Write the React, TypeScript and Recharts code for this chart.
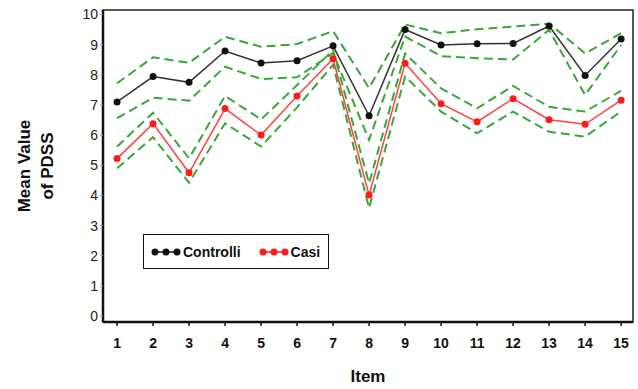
import { LineChart, Line, XAxis, YAxis, ReferenceArea } from "recharts";

const ITEMS = [1, 2, 3, 4, 5, 6, 7, 8, 9, 10, 11, 12, 13, 14, 15];
const CONTROLLI = [7.1, 7.94, 7.75, 8.79, 8.39, 8.47, 8.96, 6.64, 9.5, 8.99, 9.03, 9.04, 9.62, 7.98, 9.19];
const CONTROLLI_UP = [7.72, 8.58, 8.4, 9.26, 8.93, 9.02, 9.45, 7.56, 9.67, 9.38, 9.51, 9.6, 9.7, 8.71, 9.38];
const CONTROLLI_LO = [6.56, 7.24, 7.14, 8.27, 7.86, 7.92, 8.72, 5.84, 9.27, 8.62, 8.55, 8.51, 9.49, 7.33, 8.99];
const CASI = [5.22, 6.38, 4.75, 6.88, 6.0, 7.3, 8.53, 4.01, 8.38, 7.04, 6.44, 7.21, 6.51, 6.36, 7.16];
const CASI_UP = [5.62, 6.74, 5.23, 7.3, 6.52, 7.66, 8.82, 4.4, 8.71, 7.55, 6.89, 7.63, 6.94, 6.78, 7.47];
const CASI_LO = [4.9, 5.93, 4.42, 6.39, 5.62, 6.92, 8.33, 3.58, 7.94, 6.78, 6.06, 6.78, 6.11, 5.95, 6.78];
const Y_TICKS = [0, 1, 2, 3, 4, 5, 6, 7, 8, 9, 10];

const GREEN = "#3aa63a";
const FONT = "'Liberation Sans', Arial, sans-serif";

const data = ITEMS.map((item, i) => ({
  item,
  controlli: CONTROLLI[i],
  cUp: CONTROLLI_UP[i],
  cLo: CONTROLLI_LO[i],
  casi: CASI[i],
  kUp: CASI_UP[i],
  kLo: CASI_LO[i],
}));

const X_DOMAIN: [number, number] = [0.61, 15.33];
const Y_DOMAIN: [number, number] = [-0.2, 10.15];

function LegendBox() {
  const dots = (color: string) => (
    <svg width={30} height={10} style={{ marginRight: 2 }}>
      <line x1={4} y1={5} x2={26} y2={5} stroke={color} strokeWidth={1.5} />
      {[4, 15, 26].map(cx => <circle key={cx} cx={cx} cy={5} r={3.5} fill={color} />)}
    </svg>
  );
  return (
    <div style={{
      position: "absolute", left: 143, top: 234,
      width: 184, height: 33, border: "1.5px solid #111", display: "flex", alignItems: "center",
      fontFamily: FONT, fontWeight: "bold", fontSize: 14, color: "#111", background: "#fff",
    }}>
      <span style={{ marginLeft: 7, display: "flex", alignItems: "center" }}>{dots("#111")}Controlli</span>
      <span style={{ marginLeft: 18, display: "flex", alignItems: "center" }}>{dots("#ff1a1a")}Casi</span>
    </div>
  );
}

const YLabel = () => (
  <g fontFamily={FONT} fontWeight="bold" fontSize={17} fill="#111">
    <text transform="translate(30,166) rotate(-90)" textAnchor="middle">Mean Value</text>
    <text transform="translate(53,166) rotate(-90)" textAnchor="middle">of PDSS</text>
  </g>
);

const dashed = { stroke: GREEN, strokeWidth: 2, strokeDasharray: "9 5", dot: false, isAnimationActive: false, type: "linear" as const };

export default function App() {
  return (
    <div style={{ position: "fixed", left: 0, top: 0, width: 638, height: 389, background: "#fff" }}>
      <LineChart width={638} height={389} data={data} margin={{ top: 10, right: 5, left: 73, bottom: 37 }}>
        <XAxis dataKey="item" type="number" domain={X_DOMAIN} ticks={ITEMS} allowDataOverflow
          axisLine={{ stroke: "#111", strokeWidth: 2.5 }} tickLine={{ stroke: "#111", strokeWidth: 1.5 }} tickSize={4}
          tick={{ fontSize: 14, fontWeight: "bold", fill: "#111", fontFamily: FONT, dy: 10 }} height={30}
          label={{ value: "Item", position: "insideBottom", offset: -30, fontSize: 17, fontWeight: "bold", fill: "#111", fontFamily: FONT }} />
        <YAxis type="number" domain={Y_DOMAIN} ticks={Y_TICKS} allowDataOverflow width={30}
          axisLine={{ stroke: "#111", strokeWidth: 2.5 }} tickLine={{ stroke: "#999", strokeWidth: 1 }} tickSize={3}
          tick={{ fontSize: 14, fill: "#222", fontFamily: FONT }}
          label={{ content: () => <YLabel /> }} />
        <ReferenceArea x1={X_DOMAIN[0]} x2={X_DOMAIN[1]} y1={Y_DOMAIN[0]} y2={Y_DOMAIN[1]}
          fill="none" stroke="#222" strokeWidth={1.5} ifOverflow="visible" />
        <Line dataKey="cUp" {...dashed} />
        <Line dataKey="cLo" {...dashed} />
        <Line dataKey="kUp" {...dashed} />
        <Line dataKey="kLo" {...dashed} />
        <Line dataKey="controlli" stroke="#333" strokeWidth={1.5} dot={{ r: 3.5, fill: "#111", stroke: "#111", strokeWidth: 0 }} isAnimationActive={false} />
        <Line dataKey="casi" stroke="#ff4040" strokeWidth={1.5} dot={{ r: 3.5, fill: "#ff1a1a", stroke: "#ff1a1a", strokeWidth: 0 }} isAnimationActive={false} />
      </LineChart>
      <LegendBox />
    </div>
  );
}
